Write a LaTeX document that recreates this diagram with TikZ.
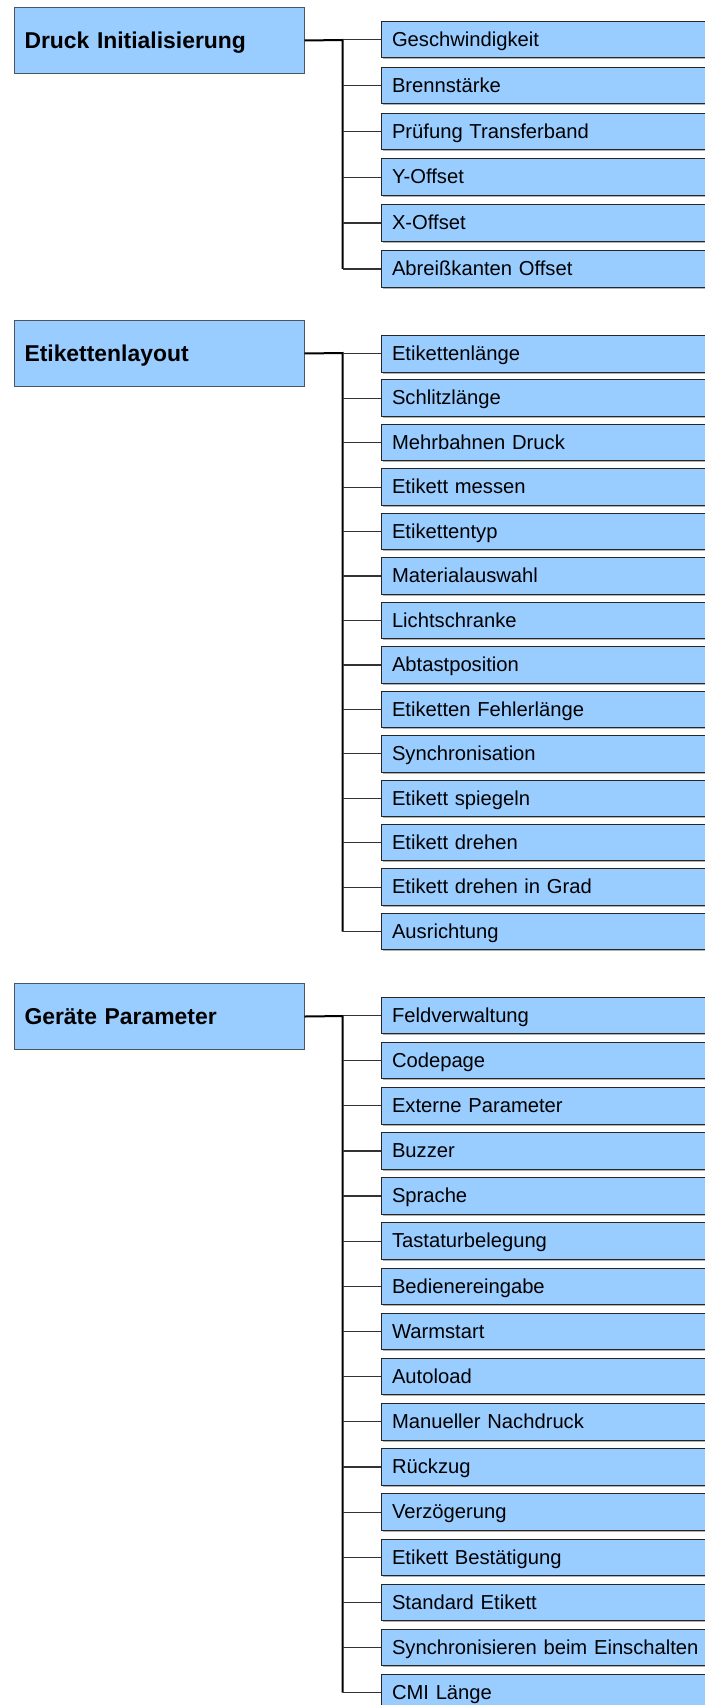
\documentclass[tikz,border=0pt]{standalone}
\usepackage{fontspec}
\setmainfont{Liberation Sans}
\usetikzlibrary{shadows}
\definecolor{boxblue}{HTML}{99CCFF}
\definecolor{headedge}{HTML}{4A5566}
\begin{document}
\begin{tikzpicture}[x=1pt,y=-1pt,
  headbox/.style={rectangle, draw=headedge, line width=1pt, fill=boxblue,
    anchor=north west, minimum height=66pt, text width=269pt,
    inner xsep=10.5pt, inner ysep=0pt, align=left,
    font=\fontsize{22.9pt}{27pt}\selectfont\bfseries,
    text height=16.4pt, text depth=0pt},
  itembox/.style={rectangle, draw=black!85, line width=1pt, fill=boxblue,
    anchor=north west, minimum height=36.5pt, text width=319pt,
    inner xsep=10.5pt, inner ysep=0pt, align=left,
    font=\fontsize{20.2pt}{24pt}\selectfont,
    text height=13.5pt, text depth=0pt,
    drop shadow={shadow xshift=1pt, shadow yshift=-1.5pt, fill=black!30, opacity=1}},
  stem/.style={line width=2pt, black},
  twig/.style={line width=1.2pt, black!80}]
\useasboundingbox (0,0) rectangle (704,1705);

% --- Druck Initialisierung ---
\node[headbox] (h1) at (13.5,7) {Druck Initialisierung};
\foreach \t [count=\i from 0] in {Geschwindigkeit, Brennstärke,
    Prüfung Transferband, Y-Offset, X-Offset, Abreißkanten Offset}
  \node[itembox] (a\i) at (381,{20.7+45.9*\i}) {\t};
\coordinate (j1) at (342.7,40);
\draw[stem] (h1.east) -- (j1) -- (j1 |- a5.west);
\foreach \i in {0,...,5} \draw[twig] (j1 |- a\i.west) -- (a\i.west);

% --- Etikettenlayout ---
\node[headbox] (h2) at (13.5,320) {Etikettenlayout};
\foreach \t [count=\i from 0] in {Etikettenlänge, Schlitzlänge,
    Mehrbahnen Druck, Etikett messen, Etikettentyp, Materialauswahl,
    Lichtschranke, Abtastposition, Etiketten Fehlerlänge, Synchronisation,
    Etikett spiegeln, Etikett drehen, Etikett drehen in Grad, Ausrichtung}
  \node[itembox] (b\i) at (381,{335+44.45*\i}) {\t};
\coordinate (j2) at (342.7,353);
\draw[stem] (h2.east) -- (j2) -- (j2 |- b13.west);
\foreach \i in {0,...,13} \draw[twig] (j2 |- b\i.west) -- (b\i.west);

% --- Geräte Parameter ---
\node[headbox] (h3) at (13.5,983) {Geräte Parameter};
\foreach \t [count=\i from 0] in {Feldverwaltung, Codepage,
    Externe Parameter, Buzzer, Sprache, Tastaturbelegung, Bedienereingabe,
    Warmstart, Autoload, Manueller Nachdruck, Rückzug, Verzögerung,
    Etikett Bestätigung, Standard Etikett,
    Synchronisieren beim Einschalten, CMI Länge}
  \node[itembox] (c\i) at (381,{996.7+45.15*\i}) {\t};
\coordinate (j3) at (342.7,1016);
\draw[stem] (h3.east) -- (j3) -- (j3 |- c15.west);
\foreach \i in {0,...,15} \draw[twig] (j3 |- c\i.west) -- (c\i.west);
\end{tikzpicture}
\end{document}
